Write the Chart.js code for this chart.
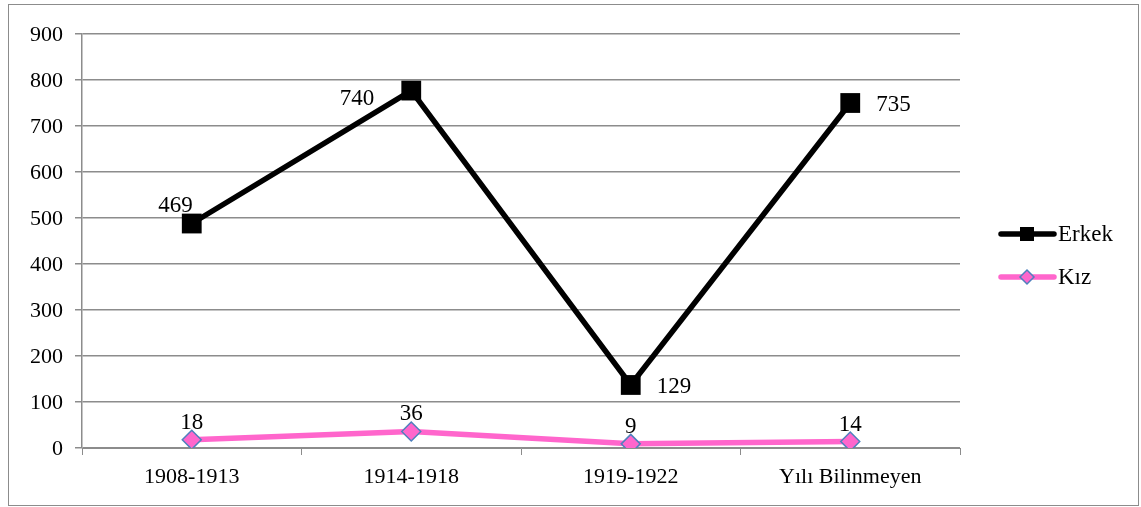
<!DOCTYPE html>
<html lang="tr">
<head>
  <meta charset="UTF-8" />
  <title>Erkek / Kız</title>
  <script src="https://cdn.jsdelivr.net/npm/chart.js"></script>
  <style>
    html, body { margin: 0; padding: 0; background: #fff; overflow: hidden; }
    #wrap { width: 1141px; height: 507px; position: relative; }
  </style>
</head>
<body>
  <div id="wrap"><canvas id="chart"></canvas></div>

  <script>
    // categories and values
    const categories = ['1908-1913', '1914-1918', '1919-1922', 'Yılı Bilinmeyen'];
    // plotted heights (points sit higher than the printed labels in the source)
    const erkekValues = [488, 777, 137, 750];
    const erkekLabels = ['469', '740', '129', '735'];
    const kizValues = [18, 36, 9, 14];
    const kizLabels = ['18', '36', '9', '14'];
    const yTicks = [0, 100, 200, 300, 400, 500, 600, 700, 800, 900];

    // where each printed label sits relative to its marker
    const erkekLabelSide = ['upleft', 'left', 'right', 'right'];

    const FONT = "'Liberation Serif', 'Times New Roman', serif";
    const GRID = '#8c8c8c';
    const PINK = '#ff66cc';
    const BLUE = '#4f81bd';

    const extras = {
      id: 'extras',
      afterDraw(chart) {
        const ctx = chart.ctx;
        ctx.save();
        // outer frame
        ctx.strokeStyle = GRID;
        ctx.lineWidth = 1;
        ctx.strokeRect(8.5, 4.5, 1130, 501);

        // y tick labels, placed by the y scale
        const ys = chart.scales.y;
        ctx.fillStyle = '#000';
        ctx.font = '22px ' + FONT;
        ctx.textAlign = 'right';
        ctx.textBaseline = 'middle';
        yTicks.forEach(v => {
          ctx.fillText(String(v), ys.right - 19, ys.getPixelForValue(v) + 1);
        });

        // value labels
        ctx.font = '23px ' + FONT;
        chart.getDatasetMeta(0).data.forEach((pt, i) => {
          const side = erkekLabelSide[i];
          if (side === 'upleft') {
            ctx.textAlign = 'right';
            ctx.fillText(erkekLabels[i], pt.x + 1, pt.y - 18);
          } else if (side === 'left') {
            ctx.textAlign = 'right';
            ctx.fillText(erkekLabels[i], pt.x - 37, pt.y + 8);
          } else {
            ctx.textAlign = 'left';
            ctx.fillText(erkekLabels[i], pt.x + 26, pt.y + 2);
          }
        });
        ctx.textAlign = 'center';
        chart.getDatasetMeta(1).data.forEach((pt, i) => {
          ctx.fillText(kizLabels[i], pt.x, pt.y - 17);
        });

        // legend
        const items = [
          { text: 'Erkek', y: 234, color: '#000', style: 'rect' },
          { text: 'Kız', y: 277, color: PINK, style: 'diamond' }
        ];
        items.forEach(it => {
          ctx.strokeStyle = it.color;
          ctx.lineWidth = 5.5;
          ctx.lineCap = 'round';
          ctx.beginPath();
          ctx.moveTo(1001, it.y);
          ctx.lineTo(1054, it.y);
          ctx.stroke();
          const cx = 1027;
          if (it.style === 'rect') {
            ctx.fillStyle = '#000';
            ctx.fillRect(cx - 7, it.y - 7, 14, 14);
          } else {
            ctx.fillStyle = PINK;
            ctx.strokeStyle = BLUE;
            ctx.lineWidth = 1.5;
            ctx.beginPath();
            ctx.moveTo(cx - 7, it.y);
            ctx.lineTo(cx, it.y - 7);
            ctx.lineTo(cx + 7, it.y);
            ctx.lineTo(cx, it.y + 7);
            ctx.closePath();
            ctx.fill();
            ctx.stroke();
          }
          ctx.fillStyle = '#000';
          ctx.font = '23px ' + FONT;
          ctx.textAlign = 'left';
          ctx.fillText(it.text, 1058, it.y + 1);
        });
        ctx.restore();
      }
    };

    new Chart(document.getElementById('chart'), {
      type: 'line',
      data: {
        labels: categories,
        datasets: [
          {
            label: 'Erkek',
            data: erkekValues,
            borderColor: '#000',
            backgroundColor: '#000',
            borderWidth: 5.5,
            pointStyle: 'rect',
            pointRadius: 14,
            pointHoverRadius: 14,
            pointBackgroundColor: '#000',
            pointBorderWidth: 0,
            tension: 0
          },
          {
            label: 'Kız',
            data: kizValues,
            borderColor: PINK,
            backgroundColor: PINK,
            borderWidth: 5.5,
            pointStyle: 'rectRot',
            pointRadius: 9.5,
            pointHoverRadius: 9.5,
            pointBackgroundColor: PINK,
            pointBorderColor: BLUE,
            pointBorderWidth: 1.5,
            tension: 0
          }
        ]
      },
      options: {
        responsive: true,
        maintainAspectRatio: false,
        animation: false,
        layout: { padding: { left: 0, top: 34, right: 181, bottom: 0 } },
        plugins: {
          legend: { display: false },
          tooltip: { enabled: false }
        },
        scales: {
          x: {
            offset: true,
            afterFit(scale) { scale.height = 59; },
            grid: {
              offset: true,
              drawOnChartArea: false,
              drawTicks: true,
              tickLength: 7,
              color: GRID
            },
            border: { color: GRID, width: 1 },
            ticks: {
              color: '#000',
              font: { family: FONT, size: 22 },
              padding: 9,
              maxRotation: 0
            }
          },
          y: {
            min: 0,
            max: 900,
            afterFit(scale) { scale.width = 82; },
            afterBuildTicks(scale) { scale.ticks = yTicks.map(v => ({ value: v })); },
            grid: {
              color: GRID,
              lineWidth: 1.5,
              tickLength: 7
            },
            border: { color: GRID, width: 1.5 },
            ticks: {
              color: 'rgba(0,0,0,0)',
              font: { family: FONT, size: 22 },
              padding: 12
            }
          }
        }
      },
      plugins: [extras]
    });
  </script>
</body>
</html>
